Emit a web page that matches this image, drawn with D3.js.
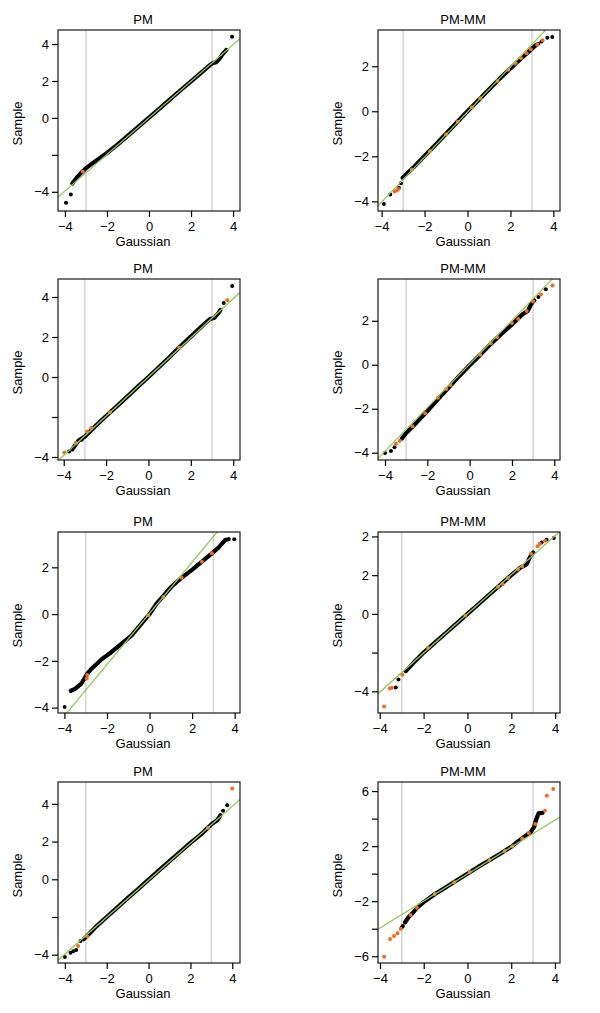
<!DOCTYPE html>
<html>
<head>
<meta charset="utf-8">
<script src="https://cdn.jsdelivr.net/npm/d3@7/dist/d3.min.js"></script>
<style>
  body { margin: 0; background: #fff; }
  text { font-family: "Liberation Sans", Arial, sans-serif; fill: #000; }
</style>
</head>
<body>
<svg id="chart" width="600" height="1013"></svg>
<script>
// one entry per panel, left to right then top to bottom
const panelTitles = ["PM", "PM-MM", "PM", "PM-MM", "PM", "PM-MM", "PM", "PM-MM"];

const xTicks = [-4, -2, 0, 2, 4];
const refLines = [-3, 3];

const xDomains = [
  [-4.33, 4.33], [-4.17, 4.31],
  [-4.27, 4.32], [-4.33, 4.27],
  [-4.30, 4.25], [-4.08, 4.22],
  [-4.33, 4.37], [-4.09, 4.23]
];
const yDomains = [
  [-5.04, 4.76], [-4.43, 3.61],
  [-4.15, 4.90], [-4.33, 3.90],
  [-4.23, 3.51], [-5.12, 4.23],
  [-4.44, 5.16], [-6.49, 6.66]
];

const yTickValues = [
  [-4, -2, 0, 2, 4], [-4, -2, 0, 2],
  [-4, -2, 0, 2, 4], [-4, -2, 0, 2],
  [-4, -2, 0, 2], [-4, -2, 0, 2, 4],
  [-4, -2, 0, 2, 4], [-6, -4, -2, 0, 2, 4, 6]
];
const yTickLabels = [
  ["\u22124", "", "0", "2", "4"], ["\u22124", "\u22122", "0", "2"],
  ["\u22124", "", "0", "2", "4"], ["\u22124", "\u22122", "0", "2"],
  ["\u22124", "\u22122", "0", "2"], ["\u22124", "", "0", "2", "2"],
  ["\u22124", "", "0", "2", "4"], ["\u22126", "", "\u22122", "", "2", "", "6"]
];

// qq reference line: [intercept, slope]
const qqLines = [
  [0.0, 0.99], [-0.03, 1.0],
  [0.0, 0.98], [0.03, 0.99],
  [0.03, 1.095], [0.0, 1.01],
  [-0.05, 0.98], [-0.03, 0.98]
];

// dense part of each sample, read along the band
const bands = [
  [[-3.65,-3.55],[-3.45,-3.25],[-3.25,-3.0],[-3.0,-2.72],[-2.5,-2.3],[-2.0,-1.9],[-1.5,-1.44],[-1.0,-0.96],[-0.5,-0.47],[0,0.01],[0.5,0.5],[1,1.0],[1.5,1.5],[2,1.98],[2.5,2.47],[2.9,2.86],[3.05,2.97],[3.2,3.02],[3.35,3.2],[3.5,3.45],[3.68,3.68]],
  [[-3.02,-2.95],[-2.5,-2.48],[-2,-1.98],[-1.5,-1.5],[-1,-1.0],[-0.5,-0.5],[0,0],[0.5,0.48],[1,0.97],[1.5,1.45],[2,1.9],[2.5,2.35],[2.8,2.6],[3.0,2.78],[3.2,2.95]],
  [[-3.6,-3.62],[-3.3,-3.18],[-3.0,-2.97],[-2.5,-2.45],[-2,-1.95],[-1.5,-1.47],[-1,-0.98],[-0.5,-0.48],[0,0.0],[0.5,0.5],[1,1.0],[1.5,1.52],[2,2.02],[2.5,2.52],[2.9,2.9],[3.1,2.95],[3.3,3.2],[3.4,3.35]],
  [[-3.2,-3.35],[-3.0,-3.1],[-2.5,-2.62],[-2,-2.1],[-1.5,-1.57],[-1,-1.05],[-0.5,-0.52],[0,-0.02],[0.5,0.45],[1,0.95],[1.5,1.4],[2,1.83],[2.5,2.3],[2.75,2.45],[2.9,2.75],[3.05,2.93]],
  [[-3.7,-3.28],[-3.5,-3.2],[-3.2,-2.97],[-2.93,-2.56],[-2.74,-2.35],[-2.27,-1.95],[-1.8,-1.63],[-1.32,-1.27],[-0.85,-0.92],[-0.38,-0.41],[0,0.0],[0.33,0.45],[0.65,0.78],[1.04,1.18],[1.5,1.55],[1.98,1.88],[2.46,2.24],[2.93,2.6],[3.24,2.84],[3.56,3.17],[3.72,3.2]],
  [[-2.81,-2.96],[-2.43,-2.49],[-2,-2.0],[-1.5,-1.5],[-1,-1.0],[-0.5,-0.5],[0,0],[0.5,0.5],[1,1.0],[1.5,1.5],[2,2.0],[2.4,2.38],[2.69,2.56],[2.84,2.91],[3.0,3.17]],
  [[-3.1,-3.18],[-2.8,-2.85],[-2.5,-2.5],[-2,-2.0],[-1.5,-1.5],[-1,-1.0],[-0.5,-0.52],[0,-0.02],[0.5,0.47],[1,0.96],[1.5,1.45],[2,1.93],[2.3,2.2],[2.6,2.48],[2.84,2.74],[3.04,2.95],[3.28,3.13],[3.44,3.4]],
  [[-2.85,-3.53],[-2.7,-3.17],[-2.47,-2.8],[-2.31,-2.48],[-2,-2.07],[-1.5,-1.5],[-1,-1.0],[-0.5,-0.5],[0,0],[0.5,0.5],[1,0.98],[1.5,1.45],[2,1.95],[2.28,2.31],[2.59,2.67],[2.9,3.04],[3.05,3.4],[3.13,3.89],[3.25,4.38],[3.43,4.42]]
];

// separate points in the tails
const blackPoints = [
  [[-3.95,-4.6],[-3.72,-4.15],[3.95,4.4]],
  [[-3.9,-4.12],[-3.6,-3.7],[-3.2,-3.4],[-3.1,-3.2],[3.3,3.0],[3.45,3.1],[3.72,3.27],[3.95,3.3]],
  [[-3.75,-3.72],[-3.15,-3.14],[3.55,3.7],[3.95,4.55]],
  [[-4.0,-4.01],[-3.72,-3.92],[-3.55,-3.75],[3.25,3.08],[3.6,3.43]],
  [[-3.99,-3.97],[3.98,3.2]],
  [[-3.27,-3.8],[-3.15,-3.39],[3.38,3.69],[3.61,3.83],[3.94,3.92]],
  [[-4.0,-4.12],[-3.73,-3.89],[-3.6,-3.82],[-3.46,-3.75],[-3.25,-3.27],[3.56,3.63],[3.76,3.93]],
  [[-3.0,-3.9],[-2.95,-3.8],[2.75,2.85]]
];

const orangePoints = [
  [[-3.15,-2.9]],
  [[-3.4,-3.56],[-3.3,-3.52],[-3.22,-3.45],[-2.6,-2.6],[-1.75,-1.78],[-1.0,-1.02],[-0.45,-0.47],[0.2,0.18],[0.6,0.58],[1.4,1.35],[1.9,1.84],[2.25,2.12],[2.5,2.35],[2.75,2.58],[2.95,2.76],[3.25,2.97],[3.5,3.15]],
  [[-3.97,-3.78],[-3.42,-3.3],[-2.9,-2.72],[-2.7,-2.55],[-1.82,-1.76],[1.45,1.48],[3.72,3.84]],
  [[-3.48,-3.59],[-3.3,-3.45],[-2.7,-2.8],[-2.1,-2.2],[-1.5,-1.5],[-1.1,-1.1],[-0.9,-0.92],[0.5,0.45],[1.0,0.98],[1.3,1.25],[2.0,1.9],[2.3,2.08],[2.7,2.45],[3.0,2.88],[3.37,3.2],[3.92,3.61]],
  [[-2.95,-2.75],[-2.93,-2.6],[-0.06,-0.06],[0.65,0.73],[1.51,1.55],[2.46,2.24],[2.93,2.6]],
  [[-3.8,-4.79],[-3.55,-3.85],[-3.45,-3.82],[-2.97,-3.15],[-1.8,-1.75],[-0.1,-0.08],[1.4,1.4],[1.6,1.55],[1.85,1.85],[2.3,2.3],[2.5,2.45],[2.9,3.1],[3.2,3.5],[3.3,3.62],[3.53,3.78]],
  [[-3.37,-3.54],[-2.94,-3.04],[2.84,2.74],[4.0,4.82]],
  [[-3.81,-6.04],[-3.54,-4.74],[-3.36,-4.53],[-3.2,-4.33],[-3.05,-4.0],[-2.6,-3.0],[-2.31,-2.48],[-1.5,-1.48],[-0.6,-0.62],[0.1,0.12],[1.0,1.0],[1.7,1.65],[2.05,2.0],[2.5,2.55],[2.8,2.95],[3.1,3.6],[3.54,4.57],[3.63,5.66],[3.92,6.15]]
];

const colLeft = [58, 378];
const rowTop = [30, 279, 532, 782];
const boxW = 182, boxH = 181;

const svg = d3.select("#chart");
svg.append("rect").attr("width", 600).attr("height", 1013).attr("fill", "#fff");

const fmt = d => d < 0 ? "\u2212" + Math.abs(d) : String(d);

panelTitles.forEach((title, i) => {
  const left = colLeft[i % 2];
  const top = rowTop[Math.floor(i / 2)];

  const x = d3.scaleLinear().domain(xDomains[i]).range([0, boxW]);
  const y = d3.scaleLinear().domain(yDomains[i]).range([boxH, 0]);

  const g = svg.append("g").attr("transform", "translate(" + left + "," + top + ")");

  g.append("clipPath").attr("id", "clip" + i)
    .append("rect").attr("width", boxW).attr("height", boxH);

  const plot = g.append("g").attr("clip-path", "url(#clip" + i + ")");

  // grey lines at +-3
  plot.selectAll("line.ref")
    .data(refLines)
    .enter()
    .append("line")
    .attr("class", "ref")
    .attr("x1", d => x(d)).attr("x2", d => x(d))
    .attr("y1", 0).attr("y2", boxH)
    .attr("stroke", "#d6d6d6")
    .attr("stroke-width", 1.6);

  const line = d3.line().x(d => x(d[0])).y(d => y(d[1]));

  plot.append("path")
    .datum(bands[i])
    .attr("d", line)
    .attr("fill", "none")
    .attr("stroke", "#000")
    .attr("stroke-width", 4.2)
    .attr("stroke-linecap", "round")
    .attr("stroke-linejoin", "round");

  plot.selectAll("circle.blk")
    .data(blackPoints[i])
    .enter()
    .append("circle")
    .attr("class", "blk")
    .attr("cx", d => x(d[0]))
    .attr("cy", d => y(d[1]))
    .attr("r", 2)
    .attr("fill", "#000");

  plot.selectAll("circle.org")
    .data(orangePoints[i])
    .enter()
    .append("circle")
    .attr("class", "org")
    .attr("cx", d => x(d[0]))
    .attr("cy", d => y(d[1]))
    .attr("r", 2)
    .attr("fill", "#f26a21");

  // qq line
  const a = qqLines[i][0], b = qqLines[i][1];
  plot.append("path")
    .datum(xDomains[i].map(v => [v, a + b * v]))
    .attr("d", line)
    .attr("fill", "none")
    .attr("stroke", "#92c95a")
    .attr("stroke-width", 1.3);

  // frame
  g.append("rect")
    .attr("width", boxW).attr("height", boxH)
    .attr("fill", "none")
    .attr("stroke", "#1a1a1a")
    .attr("stroke-width", 1.2);

  const xAxis = g.append("g")
    .attr("transform", "translate(0," + boxH + ")")
    .call(d3.axisBottom(x).tickValues(xTicks).tickFormat(fmt).tickSize(6).tickPadding(5));
  xAxis.select(".domain").remove();
  xAxis.selectAll("line").attr("stroke-width", 1.2);
  xAxis.selectAll("text").style("font-size", "13px").attr("fill", "#000");

  const yLabels = yTickLabels[i];
  const yAxis = g.append("g")
    .call(d3.axisLeft(y).tickValues(yTickValues[i]).tickFormat((d, k) => yLabels[k]).tickSize(6).tickPadding(3));
  yAxis.select(".domain").remove();
  yAxis.selectAll("line").attr("stroke-width", 1.2);
  yAxis.selectAll("text").style("font-size", "13px").attr("fill", "#000");

  g.append("text")
    .attr("x", boxW / 2 - 6)
    .attr("y", -6)
    .attr("text-anchor", "middle")
    .style("font-size", "13px")
    .text(title);

  g.append("text")
    .attr("x", boxW / 2 - 6)
    .attr("y", boxH + 35)
    .attr("text-anchor", "middle")
    .style("font-size", "13px")
    .text("Gaussian");

  g.append("text")
    .attr("transform", "translate(-36," + (boxH / 2 + 3) + ") rotate(-90)")
    .attr("text-anchor", "middle")
    .style("font-size", "13px")
    .text("Sample");
});
</script>
</body>
</html>
